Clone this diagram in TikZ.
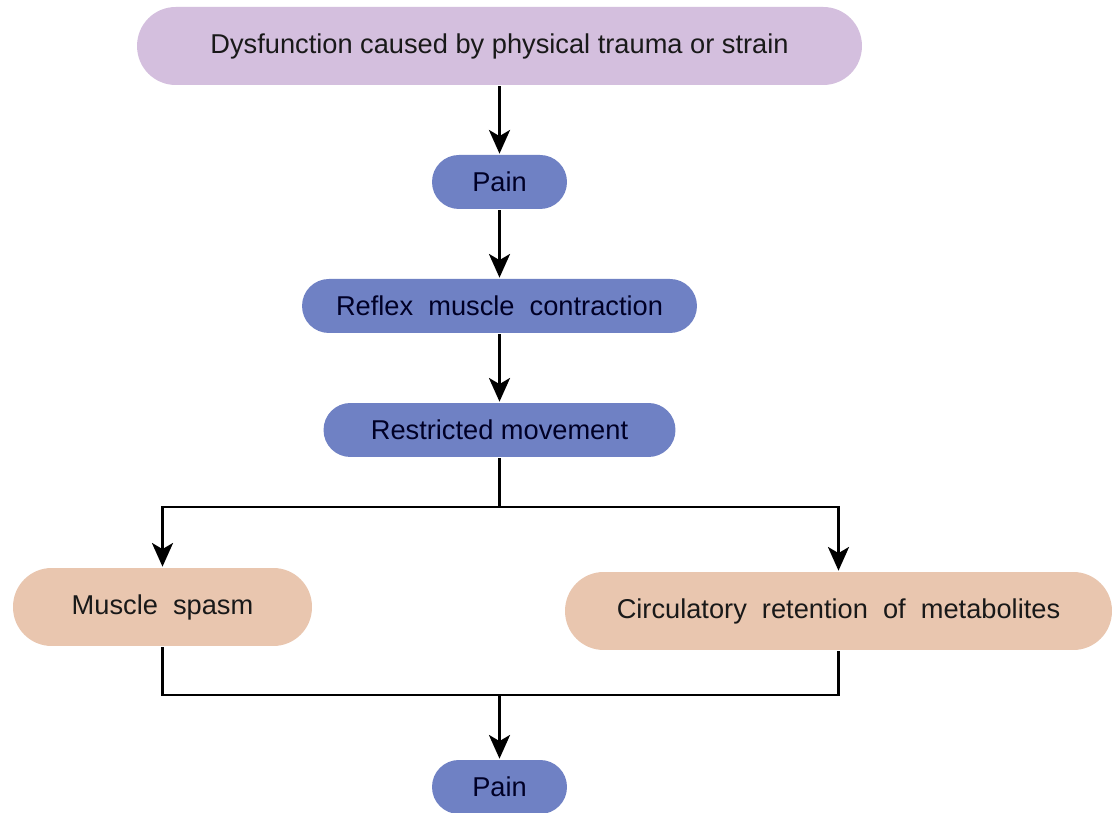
\documentclass[tikz,border=0pt]{standalone}
\usepackage{fontspec}
\setmainfont{Liberation Sans}
\usetikzlibrary{arrows.meta}
\definecolor{lilac}{HTML}{D4BFDE}
\definecolor{painblue}{HTML}{6F81C4}
\definecolor{peach}{HTML}{E9C6AF}
\tikzset{
  stage/.style={rectangle, inner sep=0pt, minimum height=1.08cm, rounded corners=15.3pt,
    fill=painblue, text=black!85!blue, font=\fontsize{15.5}{18}\selectfont},
  wide stage/.style={stage, minimum height=1.56cm, rounded corners=22pt, text=black!90},
}
\begin{document}
\begin{tikzpicture}[line cap=butt,line join=miter,>={Stealth[length=13.5pt,width=12pt,inset=3.5pt]},x=0.02cm,y=-0.02cm,line width=1.5pt]
			\useasboundingbox[fill=white] (0,0) rectangle (1113,813);
			% boxes
			\node[wide stage, fill=lilac, minimum width=14.5cm] (trauma) at (499.5,46) {Dysfunction caused by physical trauma or strain};
			\node[stage, minimum width=2.7cm] (pain) at (499.5,182) {Pain};
			\node[stage, minimum width=7.9cm] (reflex) at (499.5,306) {Reflex\ \ muscle\ \ contraction};
			\node[stage, minimum width=7.04cm] (restricted) at (499.5,430) {Restricted movement};
			\node[wide stage, fill=peach, minimum width=5.98cm] (spasm) at (162.5,607) {Muscle\ \ spasm};
			\node[wide stage, fill=peach, minimum width=10.94cm] (metabolites) at (838.5,611) {Circulatory\ \ retention\ \ of\ \ metabolites};
			\node[stage, minimum width=2.7cm] (painend) at (499.5,787) {Pain};
			\coordinate (split) at (499.5,507);
			\coordinate (join) at (499.5,695);
			% arrows
			\draw [->] (trauma) -- (pain);
			\draw [->] (pain) -- (reflex);
			\draw [->] (reflex) -- (restricted);
			\draw (restricted) -- (split);
			\draw [->] (split) -| (spasm);
			\draw [->] (split) -| (metabolites);
			\draw (spasm) |- (join);
			\draw (metabolites) |- (join);
			\draw [->] (join) -- (painend);
		\end{tikzpicture}
\end{document}
